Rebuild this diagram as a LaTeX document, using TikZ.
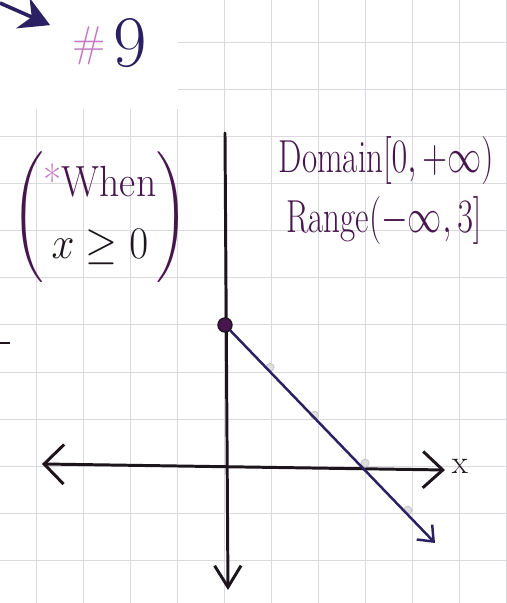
\documentclass[tikz,border=0pt]{standalone}
\usepackage{amsmath}
\usepackage{amssymb}
\usepackage{xcolor}
\usepackage{tikz}
\usetikzlibrary{arrows,arrows.meta,calc}
\definecolor{inkblk}{RGB}{28,22,28}
\definecolor{inkpur}{RGB}{72,22,78}
\definecolor{inknavy}{RGB}{42,32,98}
\definecolor{inkpink}{RGB}{196,120,196}
\definecolor{gridcol}{RGB}{218,218,222}
\tikzstyle{gridln}=[draw=gridcol, line width=0.6pt]
\tikzstyle{axisline}=[draw=inkblk, line width=1.8pt, line cap=round]
\tikzstyle{graphline}=[draw=inknavy, line width=1.5pt, line cap=round]
\tikzstyle{ptblk}=[circle, draw=inkblk, fill=inkpur, line width=0.8pt, inner sep=0pt, minimum size=3mm]
\tikzstyle{plotpt}=[circle, draw=gray!45, fill=gray!25, line width=0.5pt, inner sep=0pt, minimum size=1.7mm]
\tikzstyle{hand}=[inner sep=0pt, text=inkpur]
\begin{document}
\begin{tikzpicture}[x=1cm,y=1cm]
\useasboundingbox (-4.787,-2.915) rectangle (6.0,9.915);
\fill[white] (-4.787,-2.915) rectangle (6.0,9.915);

% grid paper
\foreach \gx in {-4,...,6}
  \draw[gridln] (\gx,-2.915) -- (\gx,9.915);
\foreach \gy in {-2,...,9}
  \draw[gridln] (-4.787,\gy) -- (6.0,\gy);
\fill[white] (-4.787,7.6) rectangle (-1.0,9.915);

% problem number
\coordinate (pstart) at (-4.787,9.85);
\coordinate (ptip) at (-3.72,9.38);
\draw[draw=inknavy, line width=2.2pt, -{Stealth[length=18pt,width=20pt]}] (pstart) -- (ptip);
\node[hand, text=inkpink, font=\fontsize{26}{28}\selectfont] (hsh) at (-2.90,8.95) {\#};
\node[hand, text=inknavy, font=\fontsize{44}{50}\selectfont] (nine) at (-2.02,9.0) {9};

% left mark
\coordinate (dsha) at (-4.787,2.617);
\coordinate (dshb) at (-4.57,2.617);
\draw[axisline, line cap=butt, line width=1.2pt] (dsha) -- (dshb);

% notes
\node[hand, font=\fontsize{24}{29}\selectfont, yscale=1.1] (when) at (-2.66,5.30)
  {$\left(\begin{array}{@{}c@{}}\text{\textcolor{inkpink}{*}When}\\[5pt] \textcolor{inkblk}{x\geq 0}\end{array}\right)$};
\node[hand, font=\fontsize{20}{24}\selectfont, yscale=1.4] (dom) at (3.43,6.50) {Domain$[0,+\infty)$};
\node[hand, font=\fontsize{20}{24}\selectfont, yscale=1.4] (rng) at (3.38,5.22) {Range$(-\infty,3]$};

% axes
\coordinate (ytop) at (0,7.085);
\coordinate (ybot) at (0.064,-2.638);
\coordinate (xl) at (-3.894,0.043);
\coordinate (xr) at (4.681,-0.085);
\draw[axisline, -{Straight Barb[length=13pt,width=16pt,line width=1.8pt]}] (ytop) -- (ybot);
\draw[axisline, {Straight Barb[length=12pt,width=24pt,line width=1.8pt]}-{Straight Barb[length=12pt,width=22pt,line width=1.8pt]}] (xl) -- (xr);
\node[hand, text=inkblk, font=\fontsize{20}{22}\selectfont] (xlbl) at (5.0,0.0) {x};

% graph
\node[plotpt] (p1) at (0.96,2.10) {};
\node[plotpt] (p2) at (1.91,1.08) {};
\node[plotpt] (p3) at (2.98,0.06) {};
\node[plotpt] (p4) at (3.89,-0.94) {};
\node[ptblk] (yint) at (0,3) {};
\coordinate (lnend) at (4.468,-1.638);
\draw[graphline, -{Straight Barb[length=8pt,width=13pt,line width=1.5pt]}] (yint) -- (lnend);

\end{tikzpicture}
\end{document}
